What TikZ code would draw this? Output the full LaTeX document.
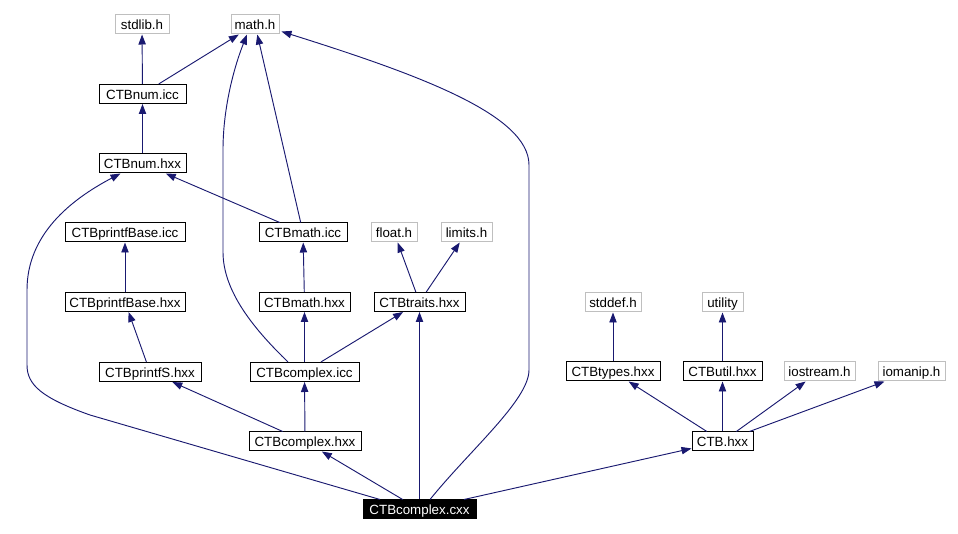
\documentclass[tikz,border=0pt]{standalone}
\usepackage{fontspec}
\setmainfont{Liberation Sans}
\usetikzlibrary{arrows.meta,calc}
\definecolor{edgeblue}{RGB}{25,25,112}
\definecolor{sysgrey}{RGB}{191,191,191}
\begin{document}
\begin{tikzpicture}[x=0.75pt,y=-0.75pt,
  box/.style={draw=black,line width=0.75pt,inner sep=0pt,minimum height=14.25pt,text height=11.25pt,text depth=3pt,font=\fontsize{10}{12}\selectfont},
  sys/.style={box,draw=sysgrey},
  mainbox/.style={box,fill=black,text=white},
  bw/.style={minimum width=#1*0.75pt},
  arr/.style={draw=edgeblue,line width=0.7pt,-{Triangle[length=7.5pt,width=5.5pt]}}]
\useasboundingbox (0,0) rectangle (958,534);
% nodes
\node[sys,bw=54] (stdlib) at (142,24.5) {stdlib.h};
\node[sys,bw=48] (mathh) at (255,24.5) {math.h};
\node[box,bw=87] (numicc) at (142.5,94) {CTBnum.icc};
\node[box,bw=87] (numhxx) at (142.5,163.5) {CTBnum.hxx};
\node[box,bw=120] (pbicc) at (125,232.5) {CTBprintfBase.icc};
\node[box,bw=88] (mathicc) at (303,232.5) {CTBmath.icc};
\node[sys,bw=46] (floath) at (394,232.5) {float.h};
\node[sys,bw=51] (limitsh) at (466.5,232.5) {limits.h};
\node[box,bw=120] (pbhxx) at (125,302) {CTBprintfBase.hxx};
\node[box,bw=91] (mathhxx) at (304.5,302) {CTBmath.hxx};
\node[box,bw=91] (traits) at (419.5,302) {CTBtraits.hxx};
\node[sys,bw=56] (stddef) at (613,302.5) {stddef.h};
\node[sys,bw=41] (utility) at (722.5,302.5) {utility};
\node[box,bw=102] (printfs) at (150,372) {CTBprintfS.hxx};
\node[box,bw=109] (cicc) at (304.5,372) {CTBcomplex.icc};
\node[box,bw=94] (types) at (613,371.5) {CTBtypes.hxx};
\node[box,bw=79] (util) at (722.5,371.5) {CTButil.hxx};
\node[sys,bw=71] (iostream) at (819.5,371.5) {iostream.h};
\node[sys,bw=67] (iomanip) at (911.5,371.5) {iomanip.h};
\node[box,bw=112] (chxx) at (305,441.5) {CTBcomplex.hxx};
\node[box,bw=61] (ctb) at (722.5,441.5) {CTB.hxx};
\node[mainbox,bw=113] (cxx) at (419.5,509.5) {CTBcomplex.cxx};
% straight edges
\draw[arr] (numicc) -- (stdlib);
\draw[arr] (numicc) -- (mathh);
\draw[arr] (numhxx) -- (numicc);
\draw[arr] (mathicc) -- (numhxx);
\draw[arr] (mathicc) -- (mathh);
\draw[arr] (pbhxx) -- (pbicc);
\draw[arr] (mathhxx) -- (mathicc);
\draw[arr] (traits) -- (floath);
\draw[arr] (traits) -- (limitsh);
\draw[arr] (printfs) -- (pbhxx);
\draw[arr] (cicc) -- (mathhxx);
\draw[arr] (cicc) -- (traits);
\draw[arr] (chxx) -- (printfs);
\draw[arr] (chxx) -- (cicc);
\draw[arr] (cxx) -- (chxx);
\draw[arr] (cxx.north -| traits.south) -- (traits.south);
\draw[arr] (cxx) -- (ctb);
\draw[arr] (ctb) -- (types);
\draw[arr] (ctb) -- (util);
\draw[arr] (ctb) -- (iostream);
\draw[arr] (ctb) -- (iomanip);
\draw[arr] (types) -- (stddef);
\draw[arr] (util) -- (utility);
% curved edges
\draw[arr] ($(cicc.north)+(-16.5,0)$) .. controls (255,330) and (223,292) .. (223,252)
  -- (223,150) .. controls (223,110) and (233,70) .. ($(mathh.south)+(-8,0)$);
\draw[arr] ($(cxx.north)+(10.5,0)$) .. controls (470,450) and (529,400) .. (529,370)
  -- (529,165) .. controls (529,115) and (420,75) .. ($(mathh.south east)+(2,-3)$);
\draw[arr] ($(cxx.north)+(-39.5,0)$) -- (90,415) .. controls (42,398) and (27,385) .. (27,365)
  -- (27,290) .. controls (27,235) and (70,200) .. ($(numhxx.south)+(-22,0)$);
\end{tikzpicture}
\end{document}
